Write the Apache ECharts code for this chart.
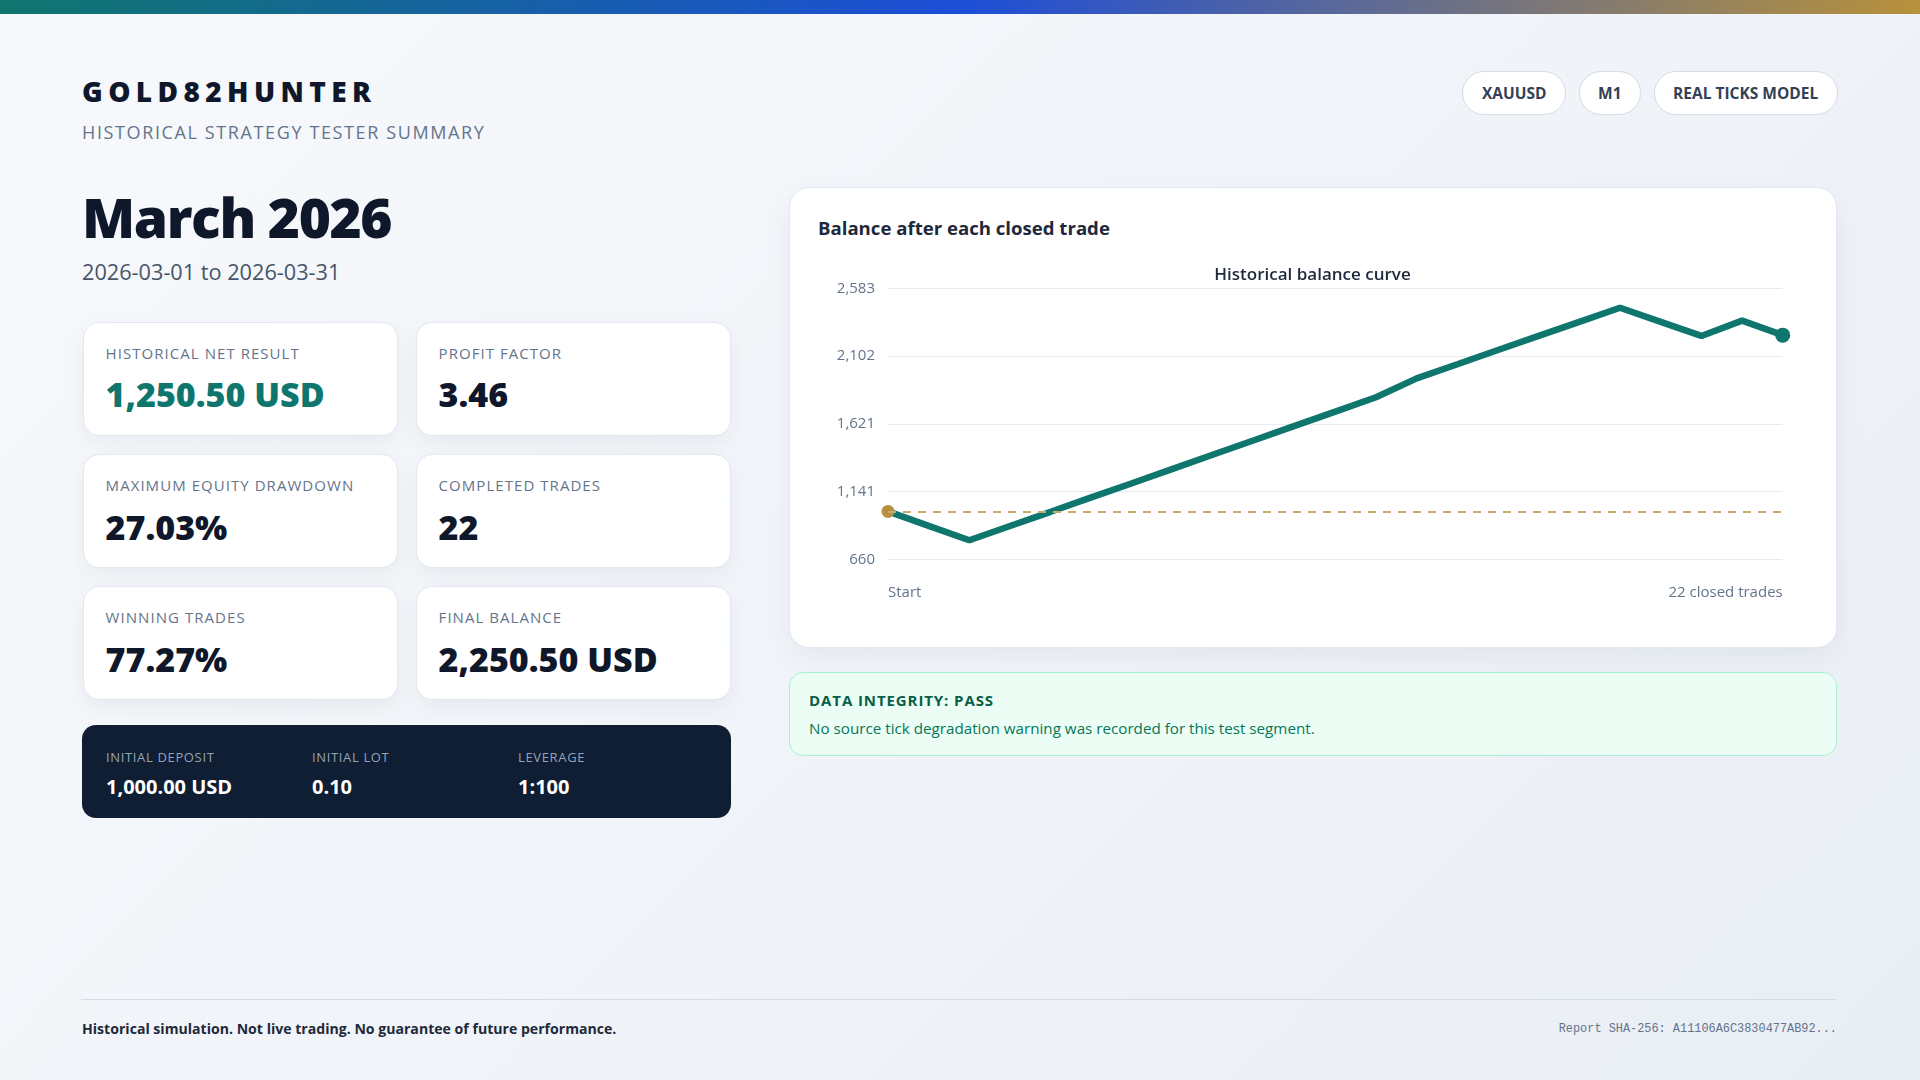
<!DOCTYPE html>
<html><head><meta charset="utf-8">
<script src="https://cdn.jsdelivr.net/npm/echarts@6/dist/echarts.min.js"></script>
<style>
html,body{margin:0;padding:0;width:1920px;height:1080px;overflow:hidden;}
body{font-family:"Open Sans",sans-serif;background:linear-gradient(135deg,#f7f9fc 0%,#f0f3f8 55%,#e9eef5 100%);position:relative;color:#0f172a;}
.topbar{position:absolute;left:0;top:0;width:1920px;height:14px;background:linear-gradient(90deg,#0f766e 0%,#1d4ed8 50%,#b8913a 100%);}
.abs{position:absolute;line-height:1;white-space:nowrap;}
.brand{left:82px;top:77px;font-size:28px;font-weight:800;letter-spacing:5.4px;color:#0f172a;}
.sub{left:82px;top:122.6px;font-size:18px;letter-spacing:0.09em;color:#64748b;}
.month{left:82px;top:189px;font-size:55px;font-weight:800;letter-spacing:-0.025em;color:#0f172a;}
.range{left:82px;top:261px;font-size:21.7px;color:#475569;}
.chips{position:absolute;right:82.3px;top:70.7px;display:flex;gap:12.6px;}
.chip{height:44px;box-sizing:border-box;padding:0 18.5px;border:1px solid #d3dce7;border-radius:22px;background:#fff;display:flex;align-items:center;font-size:15.5px;font-weight:700;color:#334155;}
.card{position:absolute;box-sizing:border-box;width:315px;height:114px;background:#fff;border:1px solid #e2e8f0;border-radius:16px;box-shadow:0 8px 22px rgba(15,23,42,0.05);}
.card .lbl{position:absolute;left:21.6px;top:23.1px;font-size:15px;letter-spacing:0.07em;color:#64748b;line-height:1;white-space:nowrap;}
.card .val{position:absolute;left:21.6px;top:54.5px;font-size:34px;font-weight:800;line-height:1;white-space:nowrap;color:#0f172a;}
.card .val.pos{color:#0f766e;}
.dark{position:absolute;left:82px;top:725px;width:649px;height:93px;background:#0f1e33;border-radius:14px;}
.dark .dl{position:absolute;top:25.8px;font-size:13px;letter-spacing:0.05em;color:#94a3b8;line-height:1;white-space:nowrap;}
.dark .dv{position:absolute;top:52.2px;font-size:20px;font-weight:700;color:#ffffff;line-height:1;white-space:nowrap;}
.panel{position:absolute;left:788.6px;top:186.7px;width:1048.4px;height:461px;box-sizing:border-box;background:#fff;border:1px solid #e2e8f0;border-radius:20px;box-shadow:0 10px 28px rgba(15,23,42,0.05);}
.panel .ptitle{position:absolute;left:28.4px;top:31.5px;font-size:18.6px;font-weight:700;color:#1e293b;line-height:1;white-space:nowrap;}
#chart{position:absolute;left:28.4px;top:62.3px;width:989px;height:380px;}
.integrity{position:absolute;left:788.6px;top:671.7px;width:1048.4px;height:84.3px;box-sizing:border-box;background:#ecfdf5;border:1px solid #a7f3d0;border-radius:14px;}
.integrity .it{position:absolute;left:19.5px;top:20.3px;font-size:15px;font-weight:700;letter-spacing:0.06em;color:#065f46;line-height:1;white-space:nowrap;}
.integrity .ib{position:absolute;left:19.5px;top:48.5px;font-size:15.2px;color:#047857;line-height:1;white-space:nowrap;}
.fline{position:absolute;left:81.4px;top:999px;width:1755.6px;height:1px;background:#d3dbe5;}
.fleft{left:82px;top:1022px;font-size:14.1px;font-weight:700;color:#1e293b;}
.fright{right:83px;top:1023.5px;font-size:11.9px;font-family:"Liberation Mono",monospace;color:#64748b;}
</style></head>
<body>
<div class="topbar"></div>
<div class="abs brand">GOLD82HUNTER</div>
<div class="abs sub">HISTORICAL STRATEGY TESTER SUMMARY</div>
<div class="abs month">March 2026</div>
<div class="abs range">2026-03-01 to 2026-03-31</div>
<div class="chips"><div class="chip">XAUUSD</div><div class="chip">M1</div><div class="chip">REAL TICKS MODEL</div></div>

<div class="card" style="left:83px;top:321.7px"><div class="lbl">HISTORICAL NET RESULT</div><div class="val pos">1,250.50 USD</div></div>
<div class="card" style="left:416px;top:321.7px"><div class="lbl">PROFIT FACTOR</div><div class="val">3.46</div></div>
<div class="card" style="left:83px;top:454px"><div class="lbl">MAXIMUM EQUITY DRAWDOWN</div><div class="val">27.03%</div></div>
<div class="card" style="left:416px;top:454px"><div class="lbl">COMPLETED TRADES</div><div class="val">22</div></div>
<div class="card" style="left:83px;top:586px"><div class="lbl">WINNING TRADES</div><div class="val">77.27%</div></div>
<div class="card" style="left:416px;top:586px"><div class="lbl">FINAL BALANCE</div><div class="val">2,250.50 USD</div></div>

<div class="dark">
  <div class="dl" style="left:24px">INITIAL DEPOSIT</div><div class="dv" style="left:24px">1,000.00 USD</div>
  <div class="dl" style="left:230px">INITIAL LOT</div><div class="dv" style="left:230px">0.10</div>
  <div class="dl" style="left:436px">LEVERAGE</div><div class="dv" style="left:436px">1:100</div>
</div>

<div class="panel">
  <div class="ptitle">Balance after each closed trade</div>
  <div id="chart"></div>
</div>

<div class="integrity">
  <div class="it">DATA INTEGRITY: PASS</div>
  <div class="ib">No source tick degradation warning was recorded for this test segment.</div>
</div>

<div class="fline"></div>
<div class="abs fleft">Historical simulation. Not live trading. No guarantee of future performance.</div>
<div class="abs fright">Report SHA-256: A11106A6C3830477AB92...</div>

<script>
// ---- data ----
const tradeIndex = ['0','1','2','3','4','5','6','7','8','9','10','11','12','13','14','15','16','17','18','19','20','21','22'];
const balance = [1000, 897.5, 795, 896, 997, 1099, 1200, 1302, 1404, 1505, 1607, 1708, 1810, 1944, 2044, 2145, 2245, 2345, 2445, 2345, 2245, 2353.8, 2250.5];
const yTicks = [660, 1141, 1621, 2102, 2583];
const xEndLabels = ['Start', '22 closed trades'];
const initialDeposit = 1000;
const chartTitle = 'Historical balance curve';

const last = balance.length - 1;
const seriesData = balance.map((v, i) => {
  if (i === 0) return { value: v, symbolSize: 13, itemStyle: { color: '#b8913f' } };
  if (i === last) return { value: v, symbolSize: 15, itemStyle: { color: '#0f766e' } };
  return { value: v, symbolSize: 0 };
});

const chart = echarts.init(document.getElementById('chart'), null, { renderer: 'canvas' });
chart.setOption({
  animation: false,
  textStyle: { fontFamily: 'Open Sans' },
  title: {
    text: chartTitle, left: 'center', top: 11.5,
    textStyle: { fontSize: 17, fontWeight: 600, color: '#1e293b', fontFamily: 'Open Sans' }
  },
  grid: { left: 70, right: 24.3, top: 38.3, bottom: 70.7, containLabel: false, outerBoundsMode: 'none' },
  xAxis: {
    type: 'category', data: tradeIndex, boundaryGap: false,
    axisLine: { show: false }, axisTick: { show: false }, splitLine: { show: false },
    axisLabel: {
      interval: (i) => i === 0 || i === last,
      formatter: (v, i) => i === 0 ? xEndLabels[0] : (i === last ? xEndLabels[1] : ''),
      alignMinLabel: 'left', alignMaxLabel: 'right',
      color: '#64748b', fontSize: 15, margin: 26, fontFamily: 'Open Sans', hideOverlap: false
    }
  },
  yAxis: {
    type: 'value', min: yTicks[0], max: yTicks[yTicks.length - 1],
    axisLine: { show: false },
    axisTick: { show: false, customValues: yTicks },
    axisLabel: {
      customValues: yTicks,
      formatter: (v) => Math.round(v).toLocaleString('en-US'),
      color: '#64748b', fontSize: 15, margin: 13, fontFamily: 'Open Sans'
    },
    splitLine: { show: true, lineStyle: { color: '#e6ebf2', width: 1 } }
  },
  series: [{
    type: 'line', data: seriesData, smooth: false,
    symbol: 'circle', showSymbol: true, showAllSymbol: true,
    lineStyle: { color: '#0f766e', width: 6.5 },
    itemStyle: { color: '#0f766e' },
    emphasis: { disabled: true },
    markLine: {
      silent: true, symbol: 'none', animation: false,
      label: { show: false },
      lineStyle: { color: '#c9a96e', type: [8, 7], width: 2 },
      emphasis: { disabled: true },
      data: [{ yAxis: initialDeposit }]
    },
    z: 3
  }]
});
</script>
</body></html>
